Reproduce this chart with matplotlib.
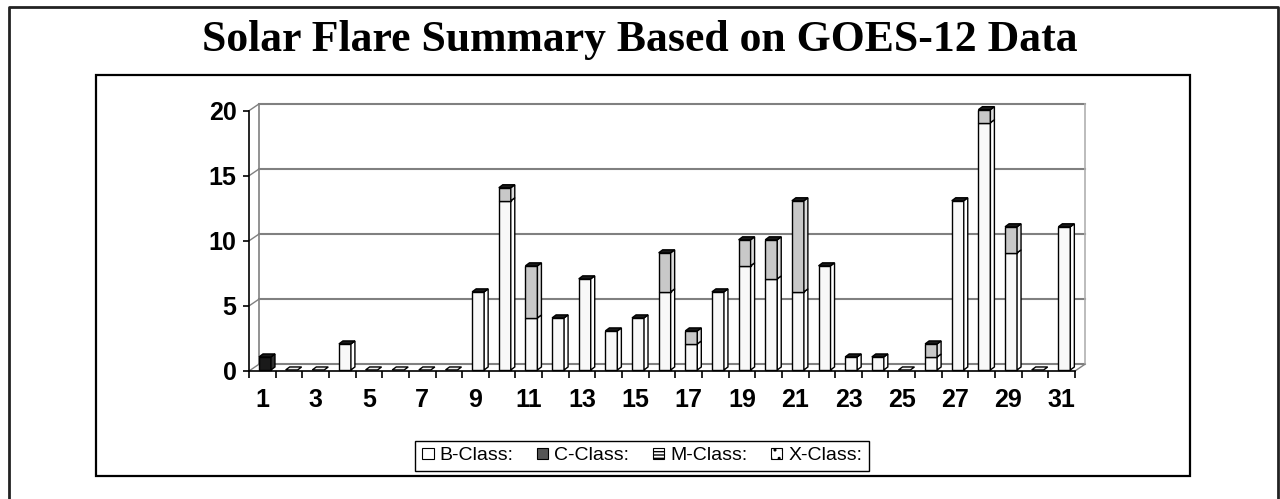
import numpy as np
import matplotlib
matplotlib.use("Agg")
from matplotlib import pyplot as plt
from matplotlib.patches import Polygon, Rectangle, Patch
from matplotlib.lines import Line2D

plt.rcParams["font.family"] = ["Liberation Sans", "DejaVu Sans"]

# data
days = np.arange(1, 32)
b_class = [0, 0, 0, 2, 0, 0, 0, 0, 6, 13, 4, 4, 7, 3, 4, 6, 2, 6, 8, 7, 6, 8, 1, 1, 0, 1, 13, 19, 9, 0, 11]
c_class = [1, 0, 0, 0, 0, 0, 0, 0, 0, 1, 4, 0, 0, 0, 0, 3, 1, 0, 2, 3, 7, 0, 0, 0, 0, 1, 0, 1, 2, 0, 0]
legend_labels = ["B-Class:", "C-Class:", "M-Class:", "X-Class:"]
title = "Solar Flare Summary Based on GOES-12 Data"

fig = plt.figure(figsize=(12.8, 4.99), dpi=100)

# outer frame and inner chart box (figure coords)
W, H = 1280, 499
fig.add_artist(Line2D([9/W, 9/W, 1278/W, 1278/W], [0, 1-7/H, 1-7/H, 0], transform=fig.transFigure,
                      color="#222222", lw=2))
fig.add_artist(Rectangle((96/W, 1-476/H), (1190-96)/W, (476-75)/H, transform=fig.transFigure,
                         fill=False, ec="black", lw=1.6))

fig.text(0.5, 1-40/H, title, ha="center", va="center", fontsize=31.5, fontweight="bold",
         family=["Liberation Serif", "DejaVu Serif"])

ax = fig.add_axes([249/W, 1-371/H, 826/W, 260.3/H])
ax.set_xlim(0.5, 31.5)
ax.set_ylim(0, 20)
ax.patch.set_visible(False)
for s in ["top", "right"]:
    ax.spines[s].set_visible(False)
ax.spines["left"].set_linewidth(1.2)
ax.spines["bottom"].set_linewidth(1.2)

# walls / floor, 3d depth
dx, dy = 0.36, 0.5
grey = "#808080"
for yv in [0, 5, 10, 15, 20]:
    ax.plot([0.5 + dx, 31.5 + dx], [yv + dy, yv + dy], color=grey, lw=1.5, zorder=1, clip_on=False)
    ax.plot([0.5, 0.5 + dx], [yv, yv + dy], color=grey, lw=1, zorder=1, clip_on=False)
ax.plot([0.5 + dx, 0.5 + dx], [dy, 20 + dy], color=grey, lw=1.2, zorder=1, clip_on=False)
ax.plot([31.5 + dx, 31.5 + dx], [dy, 20 + dy], color="#b0b0b0", lw=1.2, zorder=1, clip_on=False)
ax.plot([31.5, 31.5 + dx], [0, dy], color=grey, lw=1, zorder=1, clip_on=False)

# bars
w, ox, oy = 0.45, 0.1, 0.08
bdx, bdy = 0.15, 0.23
c_front = ["#1a1a1a" if d == 1 else "#c8c8c8" for d in days]
c_side = ["#303030" if d == 1 else "#dcdcdc" for d in days]
for i, d in enumerate(days):
    x0 = d - w / 2 + ox
    segs = [(0, b_class[i], "#f8f8f8", "white"),
            (b_class[i], b_class[i] + c_class[i], c_front[i], c_side[i])]
    z = 3 + i * 0.01
    for lo, hi, fc, sc in segs:
        if hi <= lo:
            continue
        ax.add_patch(Rectangle((x0, oy + lo), w, hi - lo, fc=fc, ec="black", lw=1, zorder=z, clip_on=False))
        ax.add_patch(Polygon([(x0 + w, oy + lo), (x0 + w + bdx, oy + lo + bdy),
                              (x0 + w + bdx, oy + hi + bdy), (x0 + w, oy + hi)],
                             fc=sc, ec="black", lw=1, zorder=z, clip_on=False))
    top = b_class[i] + c_class[i]
    tfc = "#1a1a1a" if top > 0 else "#f0f0f0"
    ax.add_patch(Polygon([(x0, oy + top), (x0 + bdx, oy + top + bdy),
                          (x0 + w + bdx, oy + top + bdy), (x0 + w, oy + top)],
                         fc=tfc, ec="black", lw=1, zorder=z + 0.005, clip_on=False))

# ticks
ax.set_yticks([0, 5, 10, 15, 20])
ax.set_xticks(days[::2])
ax.set_xticks(np.arange(0.5, 32, 1), minor=True)
ax.tick_params(axis="y", length=4, width=1.2, pad=5, labelsize=18)
ax.tick_params(axis="x", which="major", length=0, pad=12, labelsize=18)
ax.tick_params(axis="x", which="minor", length=5, width=1.2, direction="out")
for lbl in ax.get_xticklabels() + ax.get_yticklabels():
    lbl.set_fontweight("bold")

handles = [Patch(fc="white", ec="black", lw=0.8),
           Patch(fc="#555555", ec="black", lw=0.8),
           Patch(fc="white", ec="black", lw=0.8, hatch="-----"),
           Patch(fc="white", ec="black", lw=0.8, hatch="..")]
leg = fig.legend(handles, legend_labels, loc="center", bbox_to_anchor=(642/W, 1-456/H), ncol=4,
                 fontsize=14, frameon=True, fancybox=False, edgecolor="black", framealpha=1,
                 handlelength=0.6, handleheight=0.55, handletextpad=0.3, columnspacing=1.2,
                 borderpad=0.35, borderaxespad=0)
leg.get_frame().set_linewidth(1)

fig.savefig("out.png", dpi=100)
